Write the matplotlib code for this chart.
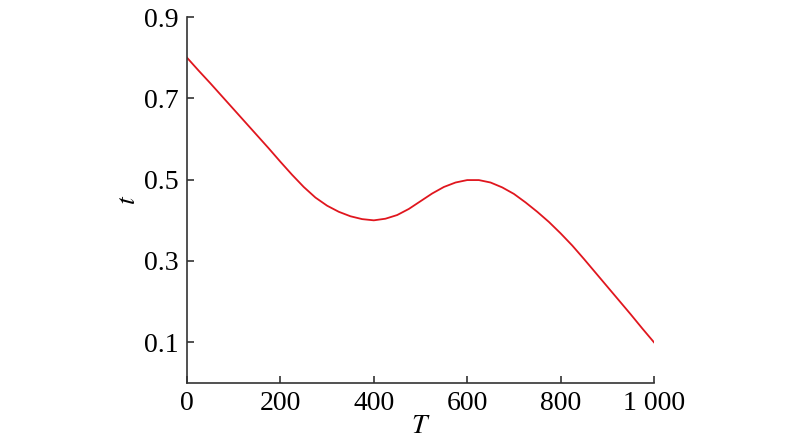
import matplotlib
matplotlib.use("Agg")
import matplotlib.pyplot as plt

T = [0, 25, 50, 75, 100, 125, 150, 175, 200, 225, 250, 275, 300, 325, 350, 375,
     400, 425, 450, 475, 500, 525, 550, 575, 600, 625, 650, 675, 700, 725, 750,
     775, 800, 825, 850, 875, 900, 925, 950, 975, 1000]
t = [0.800, 0.768, 0.737, 0.705, 0.673, 0.641, 0.609, 0.577, 0.544, 0.512, 0.482,
     0.456, 0.436, 0.421, 0.410, 0.403, 0.400, 0.404, 0.413, 0.428, 0.447, 0.466,
     0.482, 0.493, 0.499, 0.499, 0.493, 0.481, 0.465, 0.444, 0.421, 0.396, 0.368,
     0.338, 0.305, 0.271, 0.237, 0.203, 0.169, 0.134, 0.100]

xticks = [0, 200, 400, 600, 800, 1000]
xticklabels = ["0", "200", "400", "600", "800", "1 000"]
yticks = [0.1, 0.3, 0.5, 0.7, 0.9]
yticklabels = ["0.1", "0.3", "0.5", "0.7", "0.9"]

plt.rcParams['font.family'] = ['Liberation Serif', 'DejaVu Serif']
plt.rcParams['mathtext.fontset'] = 'stix'

fig = plt.figure(figsize=(8, 4.44), dpi=100)
ax = fig.add_axes([187/800, 1-383/444, (654-187)/800, (383-17)/444])
ax.plot(T, t, color='#e0161e', lw=1.3, solid_joinstyle='round')
ax.set_xlim(0, 1000)
ax.set_ylim(0, 0.9)
ax.set_xticks(xticks)
ax.set_xticklabels(xticklabels)
ax.set_yticks(yticks)
ax.set_yticklabels(yticklabels)
for s in ['top', 'right']:
    ax.spines[s].set_visible(False)
for s in ['left', 'bottom']:
    ax.spines[s].set_color('#333333')
    ax.spines[s].set_linewidth(1.2)
ax.tick_params(direction='in', length=5, width=1.2, color='#333333',
               labelsize=20, pad=6)
ax.set_xlabel('$T$', fontsize=20, labelpad=-2)
ax.set_ylabel('$t$', fontsize=20, labelpad=2)
fig.savefig('out.png', dpi=100)
